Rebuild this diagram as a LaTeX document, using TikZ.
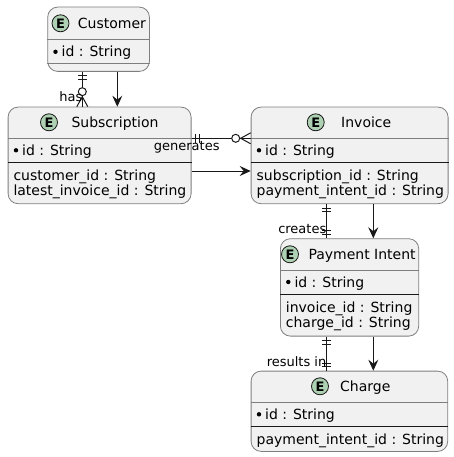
\documentclass[tikz,border=0pt]{standalone}
\usepackage{fontspec}
\setmainfont{DejaVu Sans}
\usetikzlibrary{arrows.meta,calc}
\definecolor{boxfill}{HTML}{F1F1F1}
\definecolor{boxline}{HTML}{7E7E7E}
\definecolor{circfill}{HTML}{ADD1B2}
\definecolor{inkc}{HTML}{181818}
\begin{document}
\begin{tikzpicture}[x=1pt,y=-1pt,
  entity/.style={draw=boxline, fill=boxfill, rounded corners=10pt, line width=0.8pt, inner sep=0pt, anchor=north west},
  hsep/.style={draw=boxline, line width=0.8pt},
  asep/.style={draw=inkc, line width=1pt},
  ecirc/.style={circle, draw=inkc, fill=circfill, line width=0.8pt, minimum size=17pt, inner sep=0pt, font=\fontsize{13}{13}\selectfont\bfseries},
  title/.style={anchor=base west, inner sep=0pt, font=\fontsize{14}{16}\selectfont, text=black},
  attr/.style={anchor=base west, inner sep=0pt, font=\fontsize{14}{16}\selectfont, text=black},
  lbl/.style={inner sep=0pt, font=\fontsize{13}{15}\selectfont, text=black},
  conn/.style={draw=inkc, line width=1pt},
  arr/.style={draw=inkc, line width=1pt, -{Stealth[length=11pt, width=10pt, inset=4pt]}},
  keyb/.style={draw=inkc, line width=1pt, fill=white},
  dot/.style={fill=black, draw=none}
]
\useasboundingbox (0,0) rectangle (453,457);

% ---------- entities ----------
\node[entity, minimum width=101.7pt, minimum height=64.3pt] (cust) at (47.3,6.7) {};
\node[entity, minimum width=183pt, minimum height=96.6pt] (sub) at (7.7,106.7) {};
\node[entity, minimum width=197pt, minimum height=96.6pt] (inv) at (250.7,106.7) {};
\node[entity, minimum width=138.3pt, minimum height=97.4pt] (pi) at (280,238.3) {};
\node[entity, minimum width=196.6pt, minimum height=80.3pt] (chg) at (250.7,370.7) {};

% separators
\draw[hsep] ($(cust.north west)+(0,32.6)$) -- ($(cust.north east)+(0,32.6)$);
\draw[hsep] ($(cust.north west)+(0,56.6)$) -- ($(cust.north east)+(0,56.6)$);
\draw[hsep] ($(sub.north west)+(0,31.6)$) -- ($(sub.north east)+(0,31.6)$);
\draw[asep] ($(sub.north west)+(0,55.6)$) -- ($(sub.north east)+(0,55.6)$);
\draw[hsep] ($(inv.north west)+(0,31.6)$) -- ($(inv.north east)+(0,31.6)$);
\draw[asep] ($(inv.north west)+(0,55.6)$) -- ($(inv.north east)+(0,55.6)$);
\draw[hsep] ($(pi.north west)+(0,31.7)$) -- ($(pi.north east)+(0,31.7)$);
\draw[asep] ($(pi.north west)+(0,56)$) -- ($(pi.north east)+(0,56)$);
\draw[hsep] ($(chg.north west)+(0,31.6)$) -- ($(chg.north east)+(0,31.6)$);
\draw[asep] ($(chg.north west)+(0,56)$) -- ($(chg.north east)+(0,56)$);

% headers
\node[ecirc] (ecust) at (60.5,23.3) {E};
\node[title] (tcust) at (77.7,28.3) {Customer};
\node[ecirc] (esub) at (49,122.3) {E};
\node[title] (tsub) at (71.3,127.3) {Subscription};
\node[ecirc] (einv) at (315.7,122.3) {E};
\node[title] (tinv) at (341,127.3) {Invoice};
\node[ecirc] (epi) at (290,254.3) {E};
\node[title] (tpi) at (308.3,259.3) {Payment Intent};
\node[ecirc] (echg) at (320,386.3) {E};
\node[title] (tchg) at (340,391.3) {Charge};

% attributes
\fill[dot] (55.5,51.8) circle[radius=2.2];
\node[attr] (acust1) at (61.5,56.7) {id : String};

\fill[dot] (16,150.3) circle[radius=2.2];
\node[attr] (asub1) at (22,155.3) {id : String};
\node[attr] (asub2) at (13.3,180) {customer\_id : String};
\node[attr] (asub3) at (13.3,195.7) {latest\_invoice\_id : String};

\fill[dot] (259,150.3) circle[radius=2.2];
\node[attr] (ainv1) at (265,155.3) {id : String};
\node[attr] (ainv2) at (256.5,180) {subscription\_id : String};
\node[attr] (ainv3) at (256.5,195.7) {payment\_intent\_id : String};

\fill[dot] (288.3,282) circle[radius=2.2];
\node[attr] (api1) at (294.3,287) {id : String};
\node[attr] (api2) at (285.7,312.3) {invoice\_id : String};
\node[attr] (api3) at (285.7,327.8) {charge\_id : String};

\fill[dot] (259,414.3) circle[radius=2.2];
\node[attr] (achg1) at (265,419.3) {id : String};
\node[attr] (achg2) at (256.5,444) {payment\_intent\_id : String};

% ---------- connectors ----------
\coordinate (hasx) at (82.3,0);
\coordinate (custarrx) at (117.3,0);
\coordinate (geny) at (0,138.3);
\coordinate (subarry) at (0,171);
\coordinate (crx) at (326.7,0);
\coordinate (arrx) at (373.3,0);

% Customer -- has --> Subscription
\draw[conn] (cust.south -| hasx) coordinate (h1) -- (sub.north -| hasx) coordinate (h2);
\draw[conn] ($(h1)+(-4.5,4)$) -- ($(h1)+(4.5,4)$);
\draw[conn] ($(h1)+(-4.5,7.5)$) -- ($(h1)+(4.5,7.5)$);
\draw[conn] ($(h2)+(-5.5,0)$) -- ($(h2)+(0,-10)$) -- ($(h2)+(5.5,0)$);
\draw[keyb] ($(h2)+(0,-15)$) circle[radius=4];
\node[lbl, anchor=east] (lhas) at (82.5,96.7) {has};
\draw[arr] (cust.south -| custarrx) -- (sub.north -| custarrx);

% Subscription -- generates --> Invoice
\draw[conn] (sub.east |- geny) coordinate (g1) -- (inv.west |- geny) coordinate (g2);
\draw[conn] ($(g1)+(4,-4.5)$) -- ($(g1)+(4,4.5)$);
\draw[conn] ($(g1)+(7.5,-4.5)$) -- ($(g1)+(7.5,4.5)$);
\draw[conn] ($(g2)+(0,-5.5)$) -- ($(g2)+(-10,0)$) -- ($(g2)+(0,5.5)$);
\draw[keyb] ($(g2)+(-15,0)$) circle[radius=4];
\node[lbl] (lgen) at (186.7,147.7) {generates};
\draw[arr] (sub.east |- subarry) -- (inv.west |- subarry);

% Invoice -- creates --> Payment Intent
\draw[conn] (inv.south -| crx) coordinate (c1) -- (pi.north -| crx) coordinate (c2);
\draw[conn] ($(c1)+(-4.5,4)$) -- ($(c1)+(4.5,4)$);
\draw[conn] ($(c1)+(-4.5,7.5)$) -- ($(c1)+(4.5,7.5)$);
\draw[conn] ($(c2)+(-4.5,-4)$) -- ($(c2)+(4.5,-4)$);
\draw[conn] ($(c2)+(-4.5,-7.5)$) -- ($(c2)+(4.5,-7.5)$);
\node[lbl, anchor=east] (lcre) at (326.5,229) {creates};
\draw[arr] (inv.south -| arrx) -- (pi.north -| arrx);

% Payment Intent -- results in --> Charge
\draw[conn] (pi.south -| crx) coordinate (r1) -- (chg.north -| crx) coordinate (r2);
\draw[conn] ($(r1)+(-4.5,4)$) -- ($(r1)+(4.5,4)$);
\draw[conn] ($(r1)+(-4.5,7.5)$) -- ($(r1)+(4.5,7.5)$);
\draw[conn] ($(r2)+(-4.5,-4)$) -- ($(r2)+(4.5,-4)$);
\draw[conn] ($(r2)+(-4.5,-7.5)$) -- ($(r2)+(4.5,-7.5)$);
\node[lbl, anchor=east] (lres) at (326.5,362) {results in};
\draw[arr] (pi.south -| arrx) -- (chg.north -| arrx);
\end{tikzpicture}
\end{document}
